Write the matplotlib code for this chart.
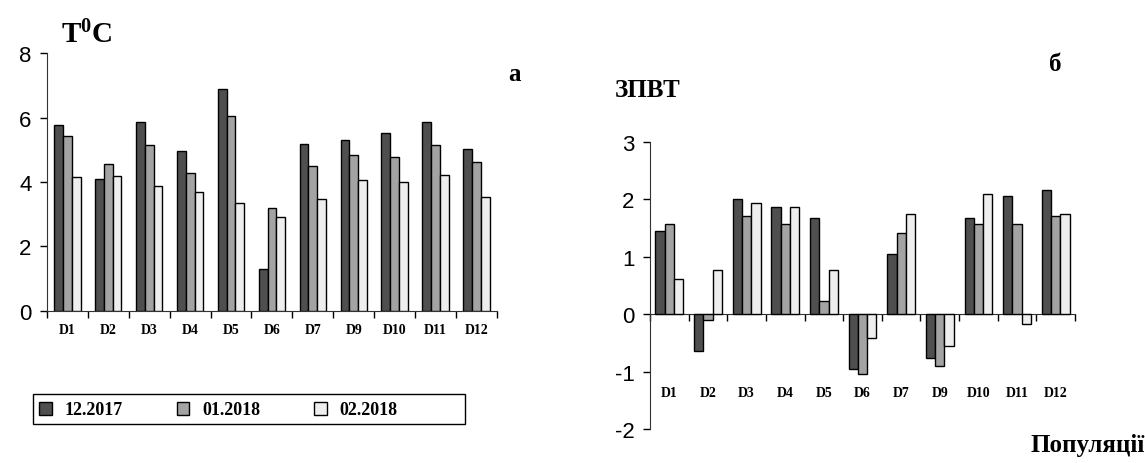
import numpy as np
import matplotlib
matplotlib.use("Agg")
import matplotlib.pyplot as plt
from matplotlib.patches import Patch, Rectangle

plt.rcParams['font.family'] = ['Liberation Sans', 'DejaVu Sans']
plt.rcParams['axes.unicode_minus'] = False
plt.rcParams['mathtext.fontset'] = 'custom'
plt.rcParams['mathtext.bf'] = 'Liberation Serif:bold'
plt.rcParams['mathtext.rm'] = 'Liberation Serif'

# populations and sampling months
populations = ["D1", "D2", "D3", "D4", "D5", "D6", "D7", "D9", "D10", "D11", "D12"]
months = ["12.2017", "01.2018", "02.2018"]

# panel a: temperature, T0C
temp_dec = [5.78, 4.08, 5.85, 4.97, 6.87, 1.31, 5.17, 5.31, 5.51, 5.85, 5.03]
temp_jan = [5.44, 4.56, 5.16, 4.28, 6.04, 3.19, 4.49, 4.83, 4.76, 5.16, 4.62]
temp_feb = [4.15, 4.20, 3.87, 3.68, 3.34, 2.93, 3.47, 4.07, 4.01, 4.22, 3.54]

# panel б: ЗПВТ
zpvt_dec = [1.45, -0.64, 2.01, 1.87, 1.68, -0.95, 1.04, -0.76, 1.68, 2.05, 2.16]
zpvt_jan = [1.56, -0.11, 1.71, 1.56, 0.23, -1.05, 1.41, -0.90, 1.56, 1.56, 1.71]
zpvt_feb = [0.61, 0.77, 1.94, 1.87, 0.77, -0.41, 1.75, -0.56, 2.09, -0.18, 1.75]

colors = ["#4f4f4f", "#a3a3a3", "#eeeeee"]
serif = "Liberation Serif"

fig = plt.figure(figsize=(11.45, 4.64), dpi=100)

x = np.arange(len(populations))

def draw_bars(ax, series, width):
    for k, vals in enumerate(series):
        ax.bar(x + (k - 1) * width, vals, width, color=colors[k],
               edgecolor="black", linewidth=1.0, zorder=3)

def style_axis(ax, pad):
    ax.set_xlim(-0.5, len(populations) - 0.5)
    ax.tick_params(axis='y', labelsize=16, length=5, width=1, pad=6)
    # boundary ticks as major, names as minor labels
    ax.set_xticks(np.arange(len(populations) + 1) - 0.5)
    ax.set_xticklabels([])
    ax.set_xticks(x, minor=True)
    ax.set_xticklabels(populations, minor=True, fontfamily=serif, fontweight='bold', fontsize=10)
    ax.tick_params(axis='x', which='major', length=5, width=1, direction='out')
    ax.tick_params(axis='x', which='minor', length=0, pad=pad)
    for s in ['top', 'right']:
        ax.spines[s].set_visible(False)
    for s in ['left', 'bottom']:
        ax.spines[s].set_color('#333333')

# ---- panel a
ax1 = fig.add_axes([0.041, 0.3276, 0.393, 0.556])
draw_bars(ax1, [temp_dec, temp_jan, temp_feb], 0.215)
ax1.set_ylim(0, 8)
ax1.set_yticks([0, 2, 4, 6, 8])
style_axis(ax1, 9)
fig.text(0.053, 0.925, r"$\mathbf{T^0C}$", fontsize=21, ha='left', va='center')
fig.text(0.449, 0.84, "a", fontfamily=serif, fontweight='bold', fontsize=18, ha='center', va='center')

# ---- panel б
ax2 = fig.add_axes([0.5677, 0.0733, 0.3712, 0.6192])
draw_bars(ax2, [zpvt_dec, zpvt_jan, zpvt_feb], 0.24)
ax2.set_ylim(-2, 3)
ax2.set_yticks([-2, -1, 0, 1, 2, 3])
ax2.spines['bottom'].set_position(('data', 0))
style_axis(ax2, 52)
fig.text(0.537, 0.805, "ЗПВТ", fontfamily=serif, fontweight='bold', fontsize=18, ha='left', va='center')
fig.text(0.922, 0.86, "б", fontfamily=serif, fontweight='bold', fontsize=18, ha='center', va='center')
fig.text(1.0, 0.04, "Популяції", fontfamily=serif, fontweight='bold', fontsize=18, ha='right', va='center')

# ---- legend (frame drawn separately so it can be wider than the entries)
handles = [Patch(facecolor=colors[k], edgecolor='black', linewidth=1.0) for k in range(3)]
fig.legend(handles, months, loc='center left',
           bbox_to_anchor=(39 / 1145, 1 - 411 / 464),
           ncol=3, frameon=False,
           prop={'family': serif, 'weight': 'bold', 'size': 13},
           handlelength=0.7, handleheight=0.7, handletextpad=0.7,
           columnspacing=3.0, borderpad=0, borderaxespad=0)
fig.patches.append(Rectangle((33 / 1145, 1 - 425 / 464), 432 / 1145, 30 / 464,
                             transform=fig.transFigure, fill=False,
                             edgecolor='black', linewidth=1.0))

fig.savefig("out.png", dpi=100)
